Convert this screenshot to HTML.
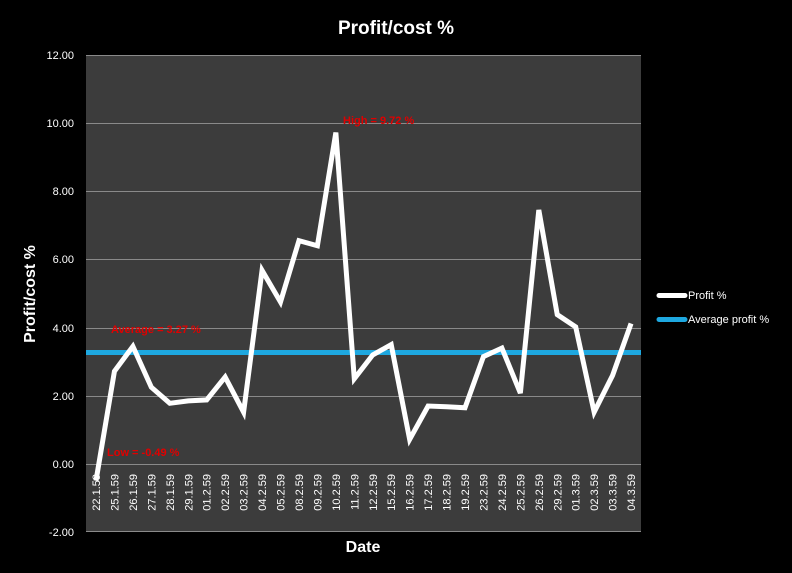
<!DOCTYPE html>
<html><head><meta charset="utf-8"><style>
html,body{margin:0;padding:0;background:#000;}
svg{display:block;font-family:"Liberation Sans",sans-serif;}
</style></head><body>
<svg width="792" height="573" viewBox="0 0 792 573">
<rect width="792" height="573" fill="#000"/>
<text x="396" y="34" fill="#fff" font-size="19" font-weight="bold" text-anchor="middle">Profit/cost %</text>
<rect x="86" y="55" width="555" height="477" fill="#3c3c3c"/>
<g stroke="#8a8a8a" stroke-width="1">
<line x1="86" x2="641" y1="55.5" y2="55.5"/>
<line x1="86" x2="641" y1="123.5" y2="123.5"/>
<line x1="86" x2="641" y1="191.5" y2="191.5"/>
<line x1="86" x2="641" y1="259.5" y2="259.5"/>
<line x1="86" x2="641" y1="328.5" y2="328.5"/>
<line x1="86" x2="641" y1="396.5" y2="396.5"/>
<line x1="86" x2="641" y1="464.5" y2="464.5"/>
<line x1="86" x2="641" y1="531.5" y2="531.5"/>
</g>
<g fill="#fff" font-size="11" text-anchor="end">
<text x="74" y="59">12.00</text>
<text x="74" y="127">10.00</text>
<text x="74" y="195">8.00</text>
<text x="74" y="263">6.00</text>
<text x="74" y="332">4.00</text>
<text x="74" y="400">2.00</text>
<text x="74" y="468">0.00</text>
<text x="74" y="536">-2.00</text>
</g>
<text transform="translate(35,294) rotate(-90)" fill="#fff" font-size="16" font-weight="bold" text-anchor="middle">Profit/cost %</text>
<text x="363" y="552" fill="#fff" font-size="16" font-weight="bold" text-anchor="middle">Date</text>
<g id="xl" fill="#fff" font-size="11" text-anchor="end"></g>
<line x1="86" x2="641" y1="352.5" y2="352.5" stroke="#1ea8e0" stroke-width="5"/>
<polyline id="pl" fill="none" stroke="#fff" stroke-width="5" stroke-linejoin="miter"/>
<g fill="#e00000" font-size="11" font-weight="bold">
<text x="343" y="124">High = 9.72 %</text>
<text x="111" y="333">Average = 3.27 %</text>
<text x="107" y="456">Low = -0.49 %</text>
</g>
<line x1="659" x2="685" y1="295.5" y2="295.5" stroke="#fff" stroke-width="5" stroke-linecap="round"/>
<text x="688" y="299" fill="#fff" font-size="11">Profit %</text>
<line x1="659" x2="685" y1="319.5" y2="319.5" stroke="#1ea8e0" stroke-width="5" stroke-linecap="round"/>
<text x="688" y="323" fill="#fff" font-size="11">Average profit %</text>
</svg>
<script>
var d=["22.1.59","25.1.59","26.1.59","27.1.59","28.1.59","29.1.59","01.2.59","02.2.59","03.2.59","04.2.59","05.2.59","08.2.59","09.2.59","10.2.59","11.2.59","12.2.59","15.2.59","16.2.59","17.2.59","18.2.59","19.2.59","23.2.59","24.2.59","25.2.59","26.2.59","29.2.59","01.3.59","02.3.59","03.3.59","04.3.59"];
var v=[-0.49,2.72,3.45,2.25,1.78,1.85,1.88,2.55,1.52,5.68,4.75,6.55,6.4,9.72,2.5,3.2,3.5,0.72,1.7,1.68,1.65,3.15,3.4,2.08,7.45,4.38,4.02,1.52,2.6,4.12];
var ns="http://www.w3.org/2000/svg",g=document.getElementById("xl"),p=[];
for(var i=0;i<30;i++){var x=96+i*18.45;p.push(x+","+(464-v[i]*34.1));
var t=document.createElementNS(ns,"text");t.setAttribute("transform","translate("+(x+4)+",474) rotate(-90)");t.textContent=d[i];g.appendChild(t);}
document.getElementById("pl").setAttribute("points",p.join(" "));
</script>
</body></html>
